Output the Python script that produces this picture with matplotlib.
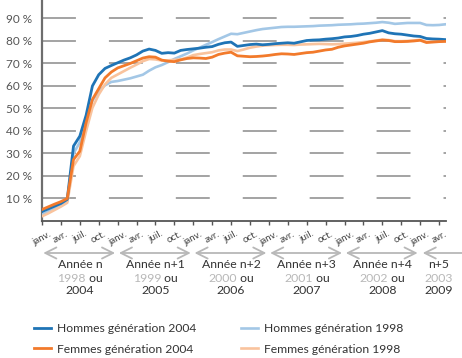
import matplotlib
matplotlib.use("Agg")
import matplotlib.pyplot as plt
from matplotlib import transforms
import numpy as np

plt.rcParams["font.family"] = ["Lato", "DejaVu Sans"]

# ── data (share of people in employment, by month since january of year n)
months = np.arange(65)

hommes_2004 = [
    4.2, 5.4, 6.6, 7.8, 9.6, 33.3, 37.7, 47.0, 60.0, 65.0, 67.8, 69.1, 70.3,
    71.5, 72.5, 73.8, 75.5, 76.4, 75.8, 74.5, 74.8, 74.6, 75.8, 76.2, 76.5,
    76.8, 77.2, 77.5, 78.5, 79.2, 79.5, 77.6, 78.0, 78.4, 78.6, 78.3, 78.5,
    78.8, 79.0, 79.2, 79.0, 79.6, 80.2, 80.4, 80.5, 80.8, 81.0, 81.3, 81.8,
    82.0, 82.4, 83.0, 83.4, 84.0, 84.6, 83.6, 83.2, 83.0, 82.6, 82.2, 82.0,
    81.1, 80.9, 80.8, 80.6,
]
femmes_2004 = [
    5.1, 6.3, 7.5, 8.6, 10.0, 27.3, 31.0, 43.7, 54.0, 58.8, 63.6, 66.2, 68.0,
    69.0, 70.0, 71.2, 72.4, 73.0, 72.8, 71.5, 71.0, 70.8, 71.6, 72.2, 72.5,
    72.4, 72.2, 72.8, 74.0, 74.6, 75.0, 73.4, 73.2, 73.0, 73.1, 73.3, 73.6,
    74.0, 74.3, 74.2, 74.0, 74.4, 74.8, 75.0, 75.5, 76.0, 76.3, 77.2, 77.8,
    78.2, 78.6, 79.0, 79.6, 80.0, 80.4, 80.2, 79.7, 79.7, 79.8, 80.0, 80.3,
    79.3, 79.5, 79.7, 79.8,
]
hommes_1998 = [
    2.9, 4.3, 5.8, 7.2, 8.8, 30.0, 35.0, 46.0, 53.5, 57.7, 60.3, 61.8, 62.2,
    62.8, 63.4, 64.2, 65.0, 66.8, 68.3, 69.3, 70.6, 72.0, 73.2, 74.4, 75.8,
    77.0, 78.3, 79.5, 80.8, 82.0, 83.2, 83.0, 83.6, 84.2, 84.8, 85.3, 85.6,
    85.9, 86.2, 86.3, 86.3, 86.4, 86.5, 86.6, 86.8, 86.9, 87.0, 87.2, 87.3,
    87.4, 87.6, 87.7, 87.9, 88.1, 88.4, 88.1, 87.6, 87.8, 88.0, 88.0, 88.0,
    87.1, 87.0, 87.1, 87.4,
]
femmes_1998 = [
    2.1, 3.4, 4.9, 6.4, 8.1, 24.4, 28.8, 40.0, 50.3, 56.2, 60.7, 63.6, 65.1,
    66.6, 68.1, 69.5, 71.0, 72.0, 71.8, 71.3, 71.4, 71.6, 71.8, 72.6, 73.7,
    74.2, 74.6, 75.0, 75.8, 76.2, 76.2, 75.5, 76.2, 77.0, 77.5, 77.9, 78.1,
    78.2, 78.3, 78.3, 78.2, 78.4, 78.5, 78.6, 78.7, 78.6, 78.5, 78.6, 78.8,
    79.0, 79.2, 79.5, 79.8, 80.2, 80.6, 80.4, 79.9, 79.9, 80.0, 80.2, 80.5,
    79.6, 79.7, 79.9, 80.0,
]

y_ticks = [10, 20, 30, 40, 50, 60, 70, 80, 90]
y_labels = [f"{v} %" for v in y_ticks]

tick_months = np.arange(0, 64, 3)
year_starts = [12, 24, 36, 48, 60]
month_names = ["janv.", "avr.", "juil.", "oct."]
tick_labels = [month_names[i % 4] for i in range(len(tick_months))]

year_titles = ["Année n", "Année n+1", "Année n+2", "Année n+3", "Année n+4", "n+5"]
years_1998 = ["1998", "1999", "2000", "2001", "2002", "2003"]
years_2004 = ["2004", "2005", "2006", "2007", "2008", "2009"]

BLUE = "#1f74b6"
LIGHT_BLUE = "#a3c7e6"
ORANGE = "#f27a2b"
LIGHT_ORANGE = "#f9c39d"
DARK = "#333333"
GREY_TXT = "#b8b8b8"

# ── figure
W, H = 462, 358
fig = plt.figure(figsize=(W / 100, H / 100), dpi=100)
ax = fig.add_axes([42 / W, 1 - 221 / H, 404 / W, 221 / H])
ax.set_xlim(0, 64.1)
ax.set_ylim(0, 98.2)
ax.set_axisbelow(True)

# horizontal dashed grid on the y ticks, vertical solid grid on year starts
ax.set_yticks(y_ticks, y_labels)
ax.yaxis.grid(True, color="#8a8a8a", linewidth=1.1, dashes=(22.2, 21.6))
ax.set_xticks(year_starts, minor=True)
ax.xaxis.grid(True, which="minor", color="#cacaca", linewidth=1.2)
ax.xaxis.grid(False, which="major")

l_h98, = ax.plot(months, hommes_1998, color=LIGHT_BLUE, lw=1.9, zorder=3)
l_f98, = ax.plot(months, femmes_1998, color=LIGHT_ORANGE, lw=1.9, zorder=3)
l_h04, = ax.plot(months, hommes_2004, color=BLUE, lw=2.0, zorder=4)
l_f04, = ax.plot(months, femmes_2004, color=ORANGE, lw=2.0, zorder=4)

for side in ("top", "right"):
    ax.spines[side].set_visible(False)
ax.spines["left"].set_color("#6e6e6e")
ax.spines["left"].set_linewidth(1.6)
ax.spines["bottom"].set_color("#555555")
ax.spines["bottom"].set_linewidth(1.3)

ax.tick_params(axis="y", length=0, pad=7, labelsize=8.5, labelcolor="#555555")
ax.set_xticks(tick_months, tick_labels, rotation=28)
ax.tick_params(axis="x", which="major", length=3, width=1, color="#555555",
               pad=3, labelsize=7, labelcolor="#444444")
ax.tick_params(axis="x", which="minor", length=0)

# ── year arrows and labels below the axis
xt = ax.get_xaxis_transform()
def frac(py):
    return (221 - py) / 221

arrow_y = frac(253)
arrow_props = dict(color="#b8b8b8", lw=1.3, shrinkA=0, shrinkB=0)
for k in range(5):
    ax.annotate("", xy=(12 * k + 11.6, arrow_y), xytext=(12 * k + 0.2, arrow_y),
                xycoords=xt, textcoords=xt, annotation_clip=False,
                arrowprops=dict(arrowstyle="<->,head_length=0.8,head_width=0.4",
                                **arrow_props))
ax.annotate("", xy=(60.4, arrow_y), xytext=(66.8, arrow_y),
            xycoords=xt, textcoords=xt, annotation_clip=False,
            arrowprops=dict(arrowstyle="->,head_length=0.8,head_width=0.4",
                            **arrow_props))

centers = [6, 18, 30, 42, 54, 62.9]
for c, title, y98, y04 in zip(centers, year_titles, years_1998, years_2004):
    ax.text(c, frac(265), title, transform=xt, ha="center", va="center",
            fontsize=8.8, color=DARK)
    if title != "n+5":
        split = transforms.offset_copy(xt, fig=fig, x=4.2, units="points")
        ax.text(c, frac(278), y98, transform=split, ha="right", va="center",
                fontsize=8.8, color=GREY_TXT)
        ax.text(c, frac(278), " ou", transform=split, ha="left", va="center",
                fontsize=8.8, color=DARK)
    else:
        ax.text(c, frac(278), y98, transform=xt, ha="center", va="center",
                fontsize=8.8, color=GREY_TXT)
    ax.text(c, frac(290), y04, transform=xt, ha="center", va="center",
            fontsize=8.8, color=DARK)

# ── legend
fig.legend([l_h04, l_f04, l_h98, l_f98],
           ["Hommes génération 2004", "Femmes génération 2004",
            "Hommes génération 1998", "Femmes génération 1998"],
           ncol=2, loc="upper left", bbox_to_anchor=(23 / W, 1 - 312 / H),
           frameon=False, fontsize=8.7, handlelength=1.45, handletextpad=0.45,
           columnspacing=3.7, labelspacing=0.8, labelcolor=DARK)

fig.savefig("out.png", dpi=100)
